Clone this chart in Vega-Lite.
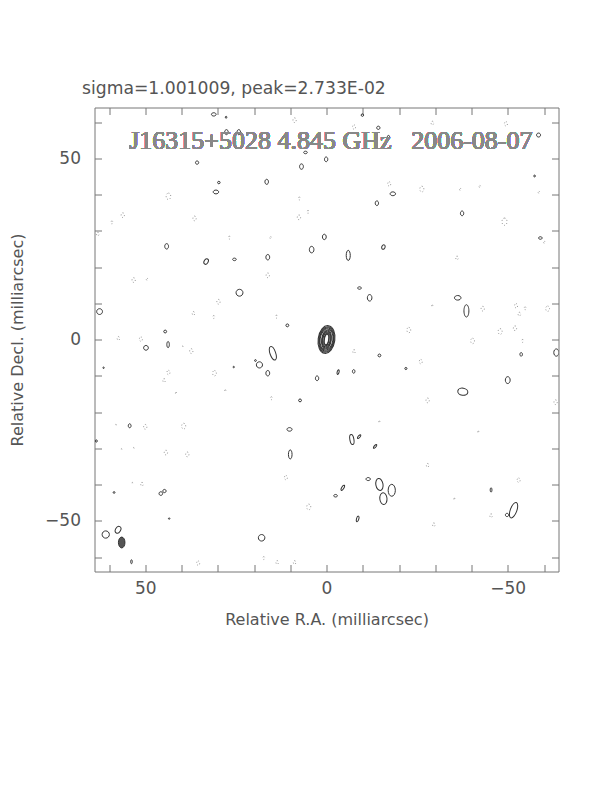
{
  "$schema": "https://vega.github.io/schema/vega-lite/v6.json",
  "width": 464,
  "height": 464,
  "autosize": {"type": "none"},
  "padding": {"left": 94.5, "top": 107.5, "right": 53.5, "bottom": 220.5},
  "background": "white",
  "title": {
    "text": "sigma=1.001009, peak=2.733E-02",
    "anchor": "start",
    "frame": "group",
    "dx": -12.5,
    "offset": 10,
    "font": "DejaVu Sans",
    "fontSize": 17.2,
    "fontWeight": "normal",
    "color": "#555"
  },
  "config": {
    "view": {"stroke": "#777", "strokeWidth": 1},
    "axis": {
      "domain": false,
      "grid": false,
      "tickColor": "#777",
      "tickSize": -7,
      "labelFont": "DejaVu Sans",
      "labelFontSize": 17,
      "labelColor": "#555",
      "titleFont": "DejaVu Sans",
      "titleFontSize": 16,
      "titleFontWeight": "normal",
      "titleColor": "#555"
    }
  },
  "datasets": {
    "contours": [
      {"x": 0, "y": 0, "d": 7.7, "s": "o6", "k": "src", "a": 8},
      {"x": 0, "y": 0, "d": 7.1, "s": "o6", "k": "src", "a": 8},
      {"x": 0, "y": 0, "d": 6.5, "s": "o6", "k": "src", "a": 8},
      {"x": 0, "y": 0, "d": 5.9, "s": "o6", "k": "src", "a": 8},
      {"x": 0, "y": 0, "d": 5.3, "s": "h", "k": "src", "a": 8},
      {"x": 0, "y": 0, "d": 4.7, "s": "h", "k": "src", "a": 8},
      {"x": 0, "y": 0, "d": 4.1, "s": "h", "k": "src", "a": 8},
      {"x": 0, "y": 0, "d": 3.5, "s": "t", "k": "src", "a": 8},
      {"x": 0, "y": 0, "d": 2.9, "s": "t", "k": "src", "a": 8},
      {"x": 56.5, "y": -56, "d": 3.0, "s": "o6", "k": "beam", "a": 0},
      {"x": 31.1, "y": 62.1, "d": 1.3, "s": "w", "k": "pos", "a": 0},
      {"x": 27.7, "y": 61.3, "d": 0.6, "s": "o", "k": "pos", "a": 0},
      {"x": 27.6, "y": 57.2, "d": 1.4, "s": "o", "k": "pos", "a": 0},
      {"x": 24.2, "y": 57.2, "d": 1.4, "s": "o", "k": "pos", "a": 0},
      {"x": 35.7, "y": 48.8, "d": 0.9, "s": "r", "k": "pos", "a": 0},
      {"x": 6.9, "y": 47.7, "d": 1.5, "s": "o", "k": "pos", "a": 0},
      {"x": 0.1, "y": 49.7, "d": 1.3, "s": "o", "k": "pos", "a": 0},
      {"x": 5.8, "y": 51.6, "d": 1.0, "s": "w", "k": "pos", "a": 0},
      {"x": 29.7, "y": 43.3, "d": 0.7, "s": "r", "k": "pos", "a": 0},
      {"x": 16.5, "y": 43.5, "d": 1.4, "s": "o", "k": "pos", "a": 0},
      {"x": 30.5, "y": 40.7, "d": 1.5, "s": "w", "k": "pos", "a": 0},
      {"x": 44.1, "y": 25.7, "d": 1.5, "s": "o", "k": "pos", "a": 0},
      {"x": 0.6, "y": 28.3, "d": 1.5, "s": "o", "k": "pos", "a": 0},
      {"x": 4.1, "y": 24.8, "d": 1.8, "s": "o", "k": "pos", "a": 0},
      {"x": 16.2, "y": 22.7, "d": 1.5, "s": "o", "k": "pos", "a": 0},
      {"x": 25.4, "y": 22.1, "d": 1.0, "s": "w", "k": "pos", "a": 0},
      {"x": 33.2, "y": 21.5, "d": 1.6, "s": "o", "k": "pos", "a": 30},
      {"x": -9.9, "y": 61.9, "d": 0.7, "s": "r", "k": "pos", "a": 0},
      {"x": -14.3, "y": 58.4, "d": 0.9, "s": "r", "k": "pos", "a": 0},
      {"x": -18.3, "y": 40.2, "d": 1.5, "s": "w", "k": "pos", "a": 0},
      {"x": -13.9, "y": 37.6, "d": 1.3, "s": "o", "k": "pos", "a": 0},
      {"x": -37.4, "y": 34.8, "d": 1.3, "s": "o", "k": "pos", "a": 0},
      {"x": -15.7, "y": 25.5, "d": 1.3, "s": "o", "k": "pos", "a": 20},
      {"x": -6.0, "y": 23.2, "d": 2.8, "s": "t", "k": "pos", "a": 0},
      {"x": -59.0, "y": 28.0, "d": 1.0, "s": "w", "k": "pos", "a": 0},
      {"x": -57.4, "y": 45.1, "d": 0.5, "s": "r", "k": "pos", "a": 0},
      {"x": -58.5, "y": 56.4, "d": 1.1, "s": "r", "k": "pos", "a": 0},
      {"x": -17.1, "y": 56.0, "d": 0.6, "s": "r", "k": "pos", "a": 0},
      {"x": 24.0, "y": 12.9, "d": 1.9, "s": "r", "k": "pos", "a": 0},
      {"x": 62.6, "y": 7.7, "d": 1.6, "s": "r", "k": "pos", "a": 0},
      {"x": 10.8, "y": 3.9, "d": 0.8, "s": "r", "k": "pos", "a": 0},
      {"x": 44.5, "y": 2.2, "d": 0.8, "s": "r", "k": "pos", "a": 0},
      {"x": 43.7, "y": -1.4, "d": 1.7, "s": "t", "k": "pos", "a": 0},
      {"x": 49.8, "y": -2.3, "d": 1.3, "s": "r", "k": "pos", "a": 0},
      {"x": 14.8, "y": -3.8, "d": 3.9, "s": "t", "k": "pos", "a": -20},
      {"x": 18.5, "y": -7.0, "d": 1.7, "s": "r", "k": "pos", "a": 0},
      {"x": 19.6, "y": -5.8, "d": 0.5, "s": "r", "k": "pos", "a": 0},
      {"x": 16.2, "y": -9.3, "d": 1.5, "s": "o", "k": "pos", "a": 0},
      {"x": 2.6, "y": -10.7, "d": 1.3, "s": "o", "k": "pos", "a": 0},
      {"x": 7.3, "y": -16.8, "d": 0.8, "s": "r", "k": "pos", "a": 0},
      {"x": 25.6, "y": -7.6, "d": 0.4, "s": "r", "k": "pos", "a": 0},
      {"x": 61.5, "y": -7.8, "d": 0.4, "s": "r", "k": "pos", "a": 0},
      {"x": -9.1, "y": 14.2, "d": 1.0, "s": "w", "k": "pos", "a": 0},
      {"x": -11.9, "y": 11.5, "d": 1.8, "s": "o", "k": "pos", "a": 0},
      {"x": -36.2, "y": 11.5, "d": 1.8, "s": "w", "k": "pos", "a": 0},
      {"x": -38.6, "y": 7.9, "d": 3.4, "s": "t", "k": "pos", "a": 0},
      {"x": -53.7, "y": -4.1, "d": 1.0, "s": "o", "k": "pos", "a": 0},
      {"x": -63.4, "y": -3.6, "d": 2.0, "s": "o", "k": "pos", "a": 0},
      {"x": -14.6, "y": -4.4, "d": 0.8, "s": "r", "k": "pos", "a": 0},
      {"x": -3.2, "y": -9.0, "d": 1.3, "s": "t", "k": "pos", "a": 15},
      {"x": -7.5, "y": -8.8, "d": 1.0, "s": "o", "k": "pos", "a": 0},
      {"x": -21.9, "y": -8.0, "d": 0.6, "s": "r", "k": "pos", "a": 0},
      {"x": -50.0, "y": -11.2, "d": 1.9, "s": "o", "k": "pos", "a": 0},
      {"x": -37.6, "y": -14.4, "d": 2.8, "s": "w", "k": "pos", "a": 10},
      {"x": 54.3, "y": -23.8, "d": 1.1, "s": "o", "k": "pos", "a": 0},
      {"x": 10.2, "y": -24.8, "d": 1.4, "s": "w", "k": "pos", "a": 0},
      {"x": 10.0, "y": -31.7, "d": 2.5, "s": "t", "k": "pos", "a": 0},
      {"x": 45.7, "y": -42.5, "d": 1.0, "s": "r", "k": "pos", "a": 0},
      {"x": 44.7, "y": -41.8, "d": 0.9, "s": "r", "k": "pos", "a": 0},
      {"x": 60.9, "y": -53.8, "d": 2.0, "s": "r", "k": "pos", "a": 0},
      {"x": 57.5, "y": -52.5, "d": 2.0, "s": "o", "k": "pos", "a": 30},
      {"x": 17.9, "y": -54.7, "d": 1.8, "s": "r", "k": "pos", "a": 0},
      {"x": 53.8, "y": -61.3, "d": 1.1, "s": "t", "k": "pos", "a": 0},
      {"x": 63.5, "y": -28.0, "d": 0.6, "s": "r", "k": "pos", "a": 0},
      {"x": -7.0, "y": -27.6, "d": 2.8, "s": "t", "k": "pos", "a": -10},
      {"x": -9.0, "y": -26.8, "d": 1.3, "s": "t", "k": "pos", "a": 40},
      {"x": -13.4, "y": -29.5, "d": 1.3, "s": "t", "k": "pos", "a": 40},
      {"x": -11.5, "y": -38.5, "d": 1.2, "s": "w", "k": "pos", "a": 0},
      {"x": -14.6, "y": -40.0, "d": 3.3, "s": "o6", "k": "pos", "a": -10},
      {"x": -15.7, "y": -43.9, "d": 3.3, "s": "o6", "k": "pos", "a": -5},
      {"x": -18.0, "y": -41.6, "d": 3.3, "s": "o6", "k": "pos", "a": 0},
      {"x": -4.5, "y": -40.9, "d": 1.6, "s": "t", "k": "pos", "a": 30},
      {"x": -2.5, "y": -43.1, "d": 1.0, "s": "w", "k": "pos", "a": 0},
      {"x": -8.6, "y": -49.5, "d": 1.6, "s": "t", "k": "pos", "a": 15},
      {"x": -45.4, "y": -41.5, "d": 1.2, "s": "t", "k": "pos", "a": 0},
      {"x": -51.6, "y": -47.1, "d": 4.5, "s": "t", "k": "pos", "a": 20},
      {"x": -49.8, "y": -48.4, "d": 0.9, "s": "r", "k": "pos", "a": 0},
      {"x": 43.4, "y": -49.4, "d": 0.4, "s": "r", "k": "pos", "a": 0},
      {"x": 58.6, "y": -42.2, "d": 0.5, "s": "r", "k": "pos", "a": 0},
      {"x": 8.8, "y": 60.5, "d": 1.3, "s": "o", "k": "neg", "a": 0},
      {"x": 43.6, "y": 39.5, "d": 1.8, "s": "o", "k": "neg", "a": 0},
      {"x": 56.2, "y": 34.3, "d": 1.3, "s": "o", "k": "neg", "a": 0},
      {"x": 59.2, "y": 32.3, "d": 0.8, "s": "o", "k": "neg", "a": 0},
      {"x": 36.4, "y": 33.4, "d": 1.3, "s": "o", "k": "neg", "a": 0},
      {"x": 7.5, "y": 38.9, "d": 0.8, "s": "o", "k": "neg", "a": 0},
      {"x": 7.6, "y": 33.7, "d": 1.3, "s": "o", "k": "neg", "a": 0},
      {"x": 5.1, "y": 35.2, "d": 0.8, "s": "o", "k": "neg", "a": 0},
      {"x": 63.1, "y": 29.1, "d": 1.0, "s": "o", "k": "neg", "a": 0},
      {"x": 26.8, "y": 28.1, "d": 0.8, "s": "o", "k": "neg", "a": 0},
      {"x": 15.4, "y": 28.1, "d": 0.6, "s": "o", "k": "neg", "a": 0},
      {"x": -7.6, "y": 58.6, "d": 1.2, "s": "o", "k": "neg", "a": 0},
      {"x": -49.5, "y": 59.5, "d": 1.2, "s": "o", "k": "neg", "a": 0},
      {"x": -17.3, "y": 42.9, "d": 1.2, "s": "o", "k": "neg", "a": 0},
      {"x": -26.3, "y": 41.5, "d": 1.6, "s": "o", "k": "neg", "a": 0},
      {"x": -36.9, "y": 41.4, "d": 0.6, "s": "o", "k": "neg", "a": 0},
      {"x": -42.3, "y": 42.2, "d": 0.6, "s": "o", "k": "neg", "a": 0},
      {"x": -58.6, "y": 40.6, "d": 0.6, "s": "o", "k": "neg", "a": 0},
      {"x": -49.1, "y": 32.5, "d": 2.0, "s": "o", "k": "neg", "a": 0},
      {"x": -36.0, "y": 22.5, "d": 1.0, "s": "o", "k": "neg", "a": 0},
      {"x": -60.1, "y": 26.8, "d": 0.6, "s": "o", "k": "neg", "a": 0},
      {"x": -29.2, "y": 59.7, "d": 1.0, "s": "o", "k": "neg", "a": 0},
      {"x": 53.2, "y": 16.4, "d": 1.3, "s": "o", "k": "neg", "a": 0},
      {"x": 49.5, "y": 16.6, "d": 0.6, "s": "o", "k": "neg", "a": 0},
      {"x": 16.2, "y": 17.7, "d": 1.3, "s": "o", "k": "neg", "a": 0},
      {"x": 29.8, "y": 10.4, "d": 1.3, "s": "o", "k": "neg", "a": 0},
      {"x": 36.7, "y": 7.2, "d": 1.0, "s": "o", "k": "neg", "a": 0},
      {"x": 31.1, "y": 6.2, "d": 0.8, "s": "o", "k": "neg", "a": 0},
      {"x": 13.8, "y": 6.3, "d": 0.8, "s": "o", "k": "neg", "a": 0},
      {"x": 57.4, "y": 0.3, "d": 1.0, "s": "o", "k": "neg", "a": 0},
      {"x": 51.2, "y": 0.1, "d": 1.2, "s": "o", "k": "neg", "a": 0},
      {"x": 37.3, "y": -3.2, "d": 1.3, "s": "o", "k": "neg", "a": 0},
      {"x": 39.7, "y": -2.0, "d": 0.4, "s": "o", "k": "neg", "a": 0},
      {"x": 43.6, "y": -9.1, "d": 1.2, "s": "o", "k": "neg", "a": 0},
      {"x": 44.8, "y": -11.3, "d": 1.0, "s": "o", "k": "neg", "a": 0},
      {"x": 30.9, "y": -9.3, "d": 1.5, "s": "o", "k": "neg", "a": 0},
      {"x": 27.9, "y": -14.1, "d": 0.5, "s": "o", "k": "neg", "a": 0},
      {"x": 41.5, "y": -14.8, "d": 0.5, "s": "o", "k": "neg", "a": 0},
      {"x": 15.2, "y": -16.2, "d": 0.8, "s": "o", "k": "neg", "a": 0},
      {"x": -22.7, "y": 2.6, "d": 1.5, "s": "o", "k": "neg", "a": 0},
      {"x": -29.2, "y": 9.3, "d": 0.5, "s": "o", "k": "neg", "a": 0},
      {"x": -43.1, "y": 8.5, "d": 1.3, "s": "o", "k": "neg", "a": 0},
      {"x": -52.3, "y": 9.3, "d": 1.2, "s": "o", "k": "neg", "a": 0},
      {"x": -54.8, "y": 8.6, "d": 0.8, "s": "o", "k": "neg", "a": 0},
      {"x": -53.2, "y": 7.0, "d": 1.0, "s": "o", "k": "neg", "a": 0},
      {"x": -61.0, "y": 8.5, "d": 1.5, "s": "o", "k": "neg", "a": 0},
      {"x": -47.9, "y": 2.2, "d": 1.6, "s": "o", "k": "neg", "a": 0},
      {"x": -52.0, "y": 3.1, "d": 1.3, "s": "o", "k": "neg", "a": 0},
      {"x": -40.3, "y": -0.4, "d": 1.5, "s": "o", "k": "neg", "a": 0},
      {"x": -54.1, "y": -0.4, "d": 0.8, "s": "o", "k": "neg", "a": 0},
      {"x": -7.6, "y": -3.3, "d": 1.0, "s": "o", "k": "neg", "a": 0},
      {"x": -26.0, "y": -6.1, "d": 1.2, "s": "o", "k": "neg", "a": 0},
      {"x": -27.9, "y": -16.8, "d": 1.3, "s": "o", "k": "neg", "a": 0},
      {"x": -63.2, "y": -17.3, "d": 1.3, "s": "o", "k": "neg", "a": 0},
      {"x": 58.1, "y": -23.6, "d": 0.4, "s": "o", "k": "neg", "a": 0},
      {"x": 50.0, "y": -24.1, "d": 1.3, "s": "o", "k": "neg", "a": 0},
      {"x": 39.4, "y": -23.9, "d": 1.6, "s": "o", "k": "neg", "a": 0},
      {"x": 56.6, "y": -30.3, "d": 0.4, "s": "o", "k": "neg", "a": 0},
      {"x": 44.3, "y": -31.2, "d": 1.3, "s": "o", "k": "neg", "a": 0},
      {"x": 38.4, "y": -31.7, "d": 1.3, "s": "o", "k": "neg", "a": 0},
      {"x": 50.9, "y": -39.9, "d": 1.0, "s": "o", "k": "neg", "a": 0},
      {"x": 11.2, "y": -38.1, "d": 1.2, "s": "o", "k": "neg", "a": 0},
      {"x": 4.9, "y": -46.2, "d": 1.6, "s": "o", "k": "neg", "a": 0},
      {"x": 35.4, "y": -61.7, "d": 1.2, "s": "o", "k": "neg", "a": 0},
      {"x": 17.3, "y": -60.3, "d": 0.8, "s": "o", "k": "neg", "a": 0},
      {"x": 13.6, "y": -61.5, "d": 1.0, "s": "o", "k": "neg", "a": 0},
      {"x": 8.8, "y": -61.5, "d": 1.0, "s": "o", "k": "neg", "a": 0},
      {"x": 53.2, "y": -30.0, "d": 0.4, "s": "o", "k": "neg", "a": 0},
      {"x": 53.6, "y": -39.6, "d": 0.4, "s": "o", "k": "neg", "a": 0},
      {"x": -14.6, "y": -22.7, "d": 0.5, "s": "o", "k": "neg", "a": 0},
      {"x": -41.9, "y": -25.5, "d": 0.5, "s": "o", "k": "neg", "a": 0},
      {"x": -27.9, "y": -34.7, "d": 1.0, "s": "o", "k": "neg", "a": 0},
      {"x": -53.0, "y": -38.8, "d": 1.2, "s": "o", "k": "neg", "a": 0},
      {"x": -35.3, "y": -44.0, "d": 0.5, "s": "o", "k": "neg", "a": 0},
      {"x": -45.4, "y": -48.6, "d": 1.0, "s": "o", "k": "neg", "a": 0},
      {"x": -29.6, "y": -51.1, "d": 1.0, "s": "o", "k": "neg", "a": 0}
    ]
  },
  "data": {"name": "contours"},
  "encoding": {
    "shape": {
      "field": "s",
      "type": "nominal",
      "legend": null,
      "scale": {
        "domain": ["r", "o", "o6", "h", "t", "w"],
        "range": [
          "M0,-1A1,1 0 1,1 0,1A1,1 0 1,1 0,-1Z",
          "M0,-1A0.7,1 0 1,1 0,1A0.7,1 0 1,1 0,-1Z",
          "M0,-1A0.6,1 0 1,1 0,1A0.6,1 0 1,1 0,-1Z",
          "M0,-1A0.5,1 0 1,1 0,1A0.5,1 0 1,1 0,-1Z",
          "M0,-1A0.4,1 0 1,1 0,1A0.4,1 0 1,1 0,-1Z",
          "M-1,0A1,0.7 0 1,1 1,0A1,0.7 0 1,1 -1,0Z"
        ]
      }
    },
    "size": {"field": "d", "type": "quantitative", "legend": null, "scale": {"type": "pow", "exponent": 2, "domain": [0, 10], "range": [0, 1314]}},
    "angle": {"field": "a", "type": "quantitative", "scale": null}
  },
  "layer": [
    {
      "transform": [{"filter": "datum.k === 'pos' || datum.k === 'src'"}],
      "mark": {"type": "point", "filled": false, "stroke": "#333", "strokeWidth": 1, "opacity": 1, "clip": true},
      "encoding": {
        "x": {"field": "x", "type": "quantitative", "scale": {"domain": [64, -64], "nice": false, "zero": false}, "axis": {"orient": "bottom", "values": [60, 50, 40, 30, 20, 10, 0, -10, -20, -30, -40, -50, -60], "labelExpr": "datum.value % 50 === 0 ? datum.label : ''", "title": "Relative R.A. (milliarcsec)", "labelPadding": 16, "titlePadding": 15}},
        "y": {"field": "y", "type": "quantitative", "scale": {"domain": [-64, 64], "nice": false, "zero": false}, "axis": {"orient": "left", "values": [-60, -50, -40, -30, -20, -10, 0, 10, 20, 30, 40, 50, 60], "labelExpr": "datum.value % 50 === 0 ? datum.label : ''", "title": "Relative Decl. (milliarcsec)", "labelPadding": 21, "titlePadding": 19}}
      }
    },
    {
      "transform": [{"filter": "datum.k === 'neg'"}],
      "mark": {"type": "point", "filled": false, "stroke": "#999", "strokeWidth": 1, "strokeDash": [1, 2], "opacity": 1, "clip": true},
      "encoding": {
        "x": {"field": "x", "type": "quantitative", "scale": {"domain": [64, -64], "nice": false, "zero": false}, "axis": {"orient": "top", "values": [60, 50, 40, 30, 20, 10, 0, -10, -20, -30, -40, -50, -60], "labels": false, "title": null}},
        "y": {"field": "y", "type": "quantitative", "scale": {"domain": [-64, 64], "nice": false, "zero": false}, "axis": {"orient": "right", "values": [-60, -50, -40, -30, -20, -10, 0, 10, 20, 30, 40, 50, 60], "labels": false, "title": null}}
      }
    },
    {
      "transform": [{"filter": "datum.k === 'beam'"}],
      "mark": {"type": "point", "filled": true, "fill": "#555", "stroke": "#333", "strokeWidth": 1, "opacity": 1, "clip": true},
      "encoding": {
        "x": {"field": "x", "type": "quantitative", "scale": {"domain": [64, -64], "nice": false, "zero": false}, "axis": null},
        "y": {"field": "y", "type": "quantitative", "scale": {"domain": [-64, 64], "nice": false, "zero": false}, "axis": null}
      }
    },
    {
      "mark": {"type": "text", "font": "Liberation Serif", "fontSize": 26, "color": "#888", "align": "center", "baseline": "alphabetic"},
      "encoding": {
        "x": {"datum": -1.2, "type": "quantitative", "axis": null},
        "y": {"datum": 52.5, "type": "quantitative", "axis": null},
        "shape": null,
        "size": null,
        "angle": null,
        "text": {"value": "J16315+5028 4.845 GHz\u00a0\u00a0 2006-08-07"}
      }
    }
  ]
}
